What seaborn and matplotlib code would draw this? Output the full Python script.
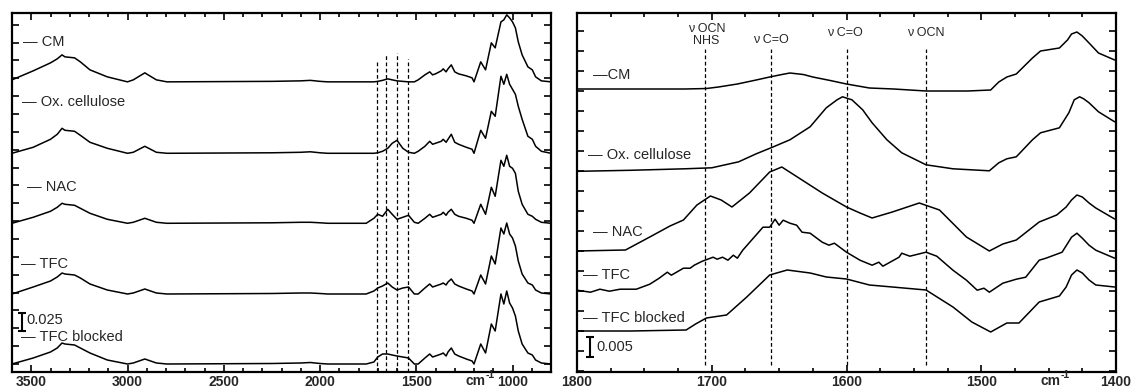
import matplotlib
matplotlib.use('Agg')
import matplotlib.pyplot as plt
from matplotlib.ticker import MultipleLocator, NullFormatter
import numpy as np
import seaborn as sns

# -------------------------------
# DATA (absorbance in mAbs, before vertical offset)
# -------------------------------
labels = ["CM", "Ox. cellulose", "NAC", "TFC", "TFC blocked"]
marker_lines = [1705, 1656, 1600, 1541]

# left panel: full range
wn_full = [3600, 3490, 3400, 3365, 3340, 3325, 3275, 3245, 3195, 3105,
           3000, 2970, 2910, 2850, 2795, 2250, 2100, 2050, 2000, 1960,
           1760, 1720, 1700, 1675, 1648, 1625, 1600, 1570, 1540, 1510,
           1490, 1455, 1430, 1415, 1400, 1370, 1360, 1345, 1335, 1318,
           1300, 1280, 1240, 1210, 1200, 1165, 1140, 1110, 1090, 1060,
           1045, 1030, 1015, 1000, 985, 970, 950, 920, 897, 880,
           850, 800]
full_cm = [2.8, 15.4, 26.6, 32.2, 37.8, 35.0, 33.6, 28.0, 16.8, 7.0,
           0, 2.8, 12.6, 2.8, 0, 0.7, 1.4, 2.1, 0.7, 0,
           0, 0, 0.7, 2.1, 4.2, 2.8, 1.4, 0.7, 0, 0,
           2.8, 9.8, 14.0, 9.8, 11.2, 15.4, 18.2, 14.0, 18.2, 23.8,
           14.0, 11.2, 8.4, 5.6, 0, 28.0, 16.8, 54.6, 47.6, 84.0,
           86.8, 93.8, 89.6, 84.0, 75.6, 56.0, 37.8, 21.0, 16.8, 7.0,
           1.4, 0]
full_ox = [0, 8.4, 19.6, 26.6, 35.0, 32.2, 30.8, 25.2, 15.4, 7.0,
           0, 1.4, 9.8, 1.4, 0, 0.7, 1.4, 2.1, 0.7, 0,
           0, 0, 0.7, 2.8, 7.0, 14.0, 18.2, 7.0, 1.4, 0,
           2.8, 9.8, 16.8, 12.6, 14.0, 16.8, 19.6, 15.4, 19.6, 26.6,
           15.4, 12.6, 8.4, 5.6, 0, 32.2, 21.0, 58.8, 51.8, 107.8,
           96.6, 110.6, 96.6, 89.6, 82.6, 65.8, 47.6, 23.8, 19.6, 9.8,
           2.8, 0]
full_nac = [0, 8.4, 16.8, 22.4, 28.0, 26.6, 25.2, 21.0, 14.0, 5.6,
            0, 1.4, 7.0, 1.4, 0, 0.7, 1.4, 1.4, 0.7, 0,
            0, 7.0, 12.6, 9.8, 19.6, 12.6, 5.6, 8.4, 11.2, 1.4,
            0, 7.0, 12.6, 8.4, 9.8, 12.6, 15.4, 11.2, 15.4, 19.6,
            12.6, 9.8, 7.0, 4.2, 0, 26.6, 12.6, 50.4, 37.8, 88.2,
            79.8, 95.2, 79.8, 77.0, 70.0, 44.8, 26.6, 12.6, 9.8, 5.6,
            1.4, 0]
full_tfc = [0, 9.8, 18.2, 23.8, 29.4, 28.0, 26.6, 22.4, 14.0, 5.6,
            0, 1.4, 7.0, 1.4, 0, 0.7, 1.4, 1.4, 0.7, 0,
            0, 4.2, 8.4, 11.2, 15.4, 9.8, 5.6, 8.4, 9.8, 0,
            0, 8.4, 14.0, 9.8, 11.2, 14.0, 15.4, 12.6, 16.8, 21.0,
            14.0, 11.2, 7.0, 4.2, 0, 26.6, 14.0, 53.2, 42.0, 92.4,
            84.0, 99.4, 84.0, 78.4, 67.2, 46.2, 28.0, 15.4, 12.6, 5.6,
            1.4, 0]
full_blk = [0, 8.4, 16.8, 22.4, 29.4, 28.0, 26.6, 22.4, 15.4, 5.6,
            0, 1.4, 7.0, 1.4, 0, 0.7, 1.4, 2.1, 0.7, 0,
            0, 2.8, 9.8, 14.0, 14.0, 12.6, 11.2, 9.8, 8.4, 0,
            0, 8.4, 14.0, 9.8, 11.2, 14.0, 15.4, 11.2, 16.8, 22.4,
            14.0, 11.2, 7.0, 4.2, 0, 28.0, 15.4, 56.0, 46.2, 98.0,
            84.0, 102.2, 85.4, 78.4, 67.2, 46.2, 28.0, 15.4, 12.6, 5.6,
            1.4, 0]
full_offsets = [395, 295, 197, 98, 0]

# right panel: 1800-1400 zoom
wn_cm = [1800, 1760, 1720, 1704, 1695, 1681, 1667, 1657, 1648, 1642,
         1632, 1625, 1612, 1600, 1583, 1565, 1541, 1510, 1493, 1487,
         1481, 1474, 1462, 1456, 1442, 1436, 1433, 1429, 1425, 1420,
         1413, 1401]
zoom_cm = [0, 0, 0, 0.12, 0.5, 1.25, 2.25, 3.0, 3.62, 4.0,
           3.62, 3.0, 2.12, 1.25, 0.25, 0, -0.5, -0.5, -0.25, 1.75,
           3.0, 3.75, 7.75, 9.5, 10.25, 12.25, 13.75, 14.25, 13.25, 11.5,
           9.0, 7.25]
wn_ox = [1800, 1760, 1720, 1700, 1680, 1667, 1656, 1642, 1627, 1615,
         1607, 1603, 1596, 1588, 1581, 1570, 1559, 1541, 1521, 1494,
         1487, 1481, 1474, 1462, 1456, 1442, 1435, 1431, 1427, 1424,
         1420, 1413, 1401]
zoom_ox = [0.12, 0.38, 0.75, 1.0, 2.5, 4.5, 6.0, 8.0, 11.25, 16.0,
           18.0, 18.75, 18.0, 15.5, 12.25, 8.0, 4.75, 1.75, 0.75, 0.25,
           2.25, 3.25, 3.75, 8.0, 9.75, 11.0, 14.75, 18.0, 18.75, 18.25,
           17.25, 15.0, 12.5]
wn_nac = [1800, 1764, 1746, 1731, 1721, 1711, 1701, 1693, 1685, 1672,
          1657, 1648, 1633, 1618, 1600, 1590, 1581, 1566, 1546, 1531,
          1511, 1494, 1484, 1474, 1457, 1444, 1437, 1433, 1429, 1425,
          1420, 1415, 1401]
zoom_nac = [0, 0.25, 3.5, 6.25, 7.75, 11.5, 13.75, 12.75, 11.0, 14.5,
            19.75, 21.0, 17.75, 14.5, 11.0, 9.5, 8.25, 9.75, 12.0, 10.25,
            3.5, 0, 1.75, 2.75, 7.25, 9.0, 11.0, 12.75, 14.0, 13.5,
            12.0, 10.75, 8.0]
wn_tfc = [1800, 1790, 1783, 1776, 1768, 1756, 1746, 1739, 1733, 1730,
          1721, 1716, 1713, 1707, 1699, 1696, 1692, 1688, 1684, 1681,
          1677, 1662, 1657, 1653, 1650, 1647, 1642, 1637, 1633, 1627,
          1618, 1613, 1609, 1600, 1590, 1581, 1576, 1573, 1561, 1559,
          1553, 1541, 1533, 1521, 1511, 1503, 1498, 1494, 1484, 1474,
          1467, 1457, 1452, 1440, 1433, 1429, 1425, 1420, 1415, 1401]
zoom_tfc = [0, -0.5, 0.25, -0.25, 0.25, 0.25, 1.5, 3.0, 4.5, 3.75,
            5.5, 5.5, 6.25, 7.25, 8.25, 7.75, 8.25, 7.5, 8.75, 8.0,
            10.0, 15.75, 15.75, 17.75, 16.25, 17.5, 16.75, 16.25, 14.5, 14.25,
            12.0, 11.25, 11.75, 9.5, 7.5, 6.25, 7.0, 6.0, 8.25, 9.25,
            8.5, 9.5, 8.5, 5.0, 2.5, 0, 0.5, -0.5, 1.75, 2.75,
            3.25, 7.5, 8.0, 9.5, 13.25, 14.25, 13.0, 11.25, 10.0, 8.0]
wn_blk = [1800, 1760, 1719, 1712, 1704, 1689, 1674, 1657, 1644, 1627,
          1615, 1600, 1583, 1566, 1541, 1521, 1507, 1493, 1481, 1472,
          1457, 1442, 1437, 1433, 1429, 1425, 1420, 1415, 1401]
zoom_blk = [0, 0, 0.25, 1.75, 3.25, 4.0, 8.5, 14.0, 15.25, 14.5,
            13.5, 13.0, 11.5, 11.0, 10.25, 6.0, 2.25, -0.25, 2.0, 2.0,
            7.25, 8.75, 11.0, 14.0, 15.25, 14.5, 12.75, 11.5, 11.0]
zoom_offsets = [60.5, 39.8, 20.0, 10.2, 0]

annotations = [("\u03bd OCN\nNHS", 1704), ("\u03bd C=O", 1656),
               ("\u03bd C=O", 1601), ("\u03bd OCN", 1541)]

sns.set_theme(style="ticks")
plt.rcParams['font.family'] = ['Liberation Sans', 'DejaVu Sans']

fig = plt.figure(figsize=(11.33, 3.91), dpi=100)
ax1 = fig.add_axes([12 / 1133, 19 / 391, 539 / 1133, 359 / 391])
ax2 = fig.add_axes([577 / 1133, 19 / 391, 539 / 1133, 359 / 391])


def style_axis(ax, major, minor, ymajor):
    ax.xaxis.set_major_locator(MultipleLocator(major))
    ax.xaxis.set_minor_locator(MultipleLocator(minor))
    ax.yaxis.set_major_locator(MultipleLocator(ymajor))
    ax.yaxis.set_major_formatter(NullFormatter())
    ax.tick_params(which='both', direction='in', top=True, right=True,
                   color='black', width=1.2)
    ax.tick_params(which='major', length=5, pad=2)
    ax.tick_params(which='minor', length=3)
    ax.tick_params(axis='x', labelsize=10)
    for lab in ax.get_xticklabels():
        lab.set_fontweight('bold')
    for sp in ax.spines.values():
        sp.set_linewidth(1.6)
        sp.set_color('black')
    ax.set_xlabel("")
    ax.set_ylabel("")


def unit_label(ax, wn):
    # "cm-1" sits in the tick label row, between two tick labels
    ax.text(wn, -0.0365, "cm", fontsize=10, fontweight='bold', ha='right',
            va='baseline', transform=ax.get_xaxis_transform())
    ax.text(wn, -0.018, "-1", fontsize=7.5, fontweight='bold', ha='left',
            va='baseline', transform=ax.get_xaxis_transform())


# -------------------------------
# LEFT PANEL
# -------------------------------
full_series = [full_cm, full_ox, full_nac, full_tfc, full_blk]
for vals, off in zip(full_series, full_offsets):
    sns.lineplot(x=wn_full, y=np.array(vals) + off, ax=ax1, color='black',
                 lw=1.1, sort=False, estimator=None)
ax1.set_xlim(3600, 800)
ax1.set_ylim(-11.2, 491.4)
for wn, top in zip(marker_lines, [425, 433, 435, 427]):
    ax1.plot([wn, wn], [-11.2, top], color='black', lw=0.9, ls=(0, (3, 2)))

left_lab_pos = [(3543, 451), (3548, 367), (3522, 248), (3553, 140), (3553, 38)]
for lab, (x, y) in zip(labels, left_lab_pos):
    ax1.text(x, y, "\u2014 " + lab, fontsize=10.5, va='center', ha='left')
ax1.errorbar([3548], [59.0], yerr=[12.5], color='black', lw=1.5, capsize=3,
             capthick=1.5)
ax1.text(3524, 61.5, "0.025", fontsize=10.5, va='center', ha='left')
style_axis(ax1, 500, 100, 25)
unit_label(ax1, 1140)

# -------------------------------
# RIGHT PANEL
# -------------------------------
zoom_series = [(wn_cm, zoom_cm), (wn_ox, zoom_ox), (wn_nac, zoom_nac),
               (wn_tfc, zoom_tfc), (wn_blk, zoom_blk)]
for (wn, vals), off in zip(zoom_series, zoom_offsets):
    sns.lineplot(x=wn, y=np.array(vals) + off, ax=ax2, color='black',
                 lw=1.1, sort=False, estimator=None)
ax2.set_xlim(1800, 1400)
ax2.set_ylim(-10.25, 79.5)
for wn in marker_lines:
    ax2.plot([wn, wn], [-8.5, 70.5], color='black', lw=0.9, ls=(0, (3, 2)))
for txt, wn in annotations:
    y = 74.0 if "NHS" in txt else (72.7 if wn == 1656 else 74.4)
    ax2.text(wn, y, txt, fontsize=9, ha='center', va='center', linespacing=1.0)

right_lab_pos = [(1788, 64), (1792, 44), (1788, 24.75), (1795.5, 14), (1795.5, 3.25)]
for lab, (x, y) in zip(labels, right_lab_pos):
    sep = "\u2014" if lab == "CM" else "\u2014 "
    ax2.text(x, y, sep + lab, fontsize=10.5, va='center', ha='left')
ax2.errorbar([1790.4], [-4.0], yerr=[2.5], color='black', lw=1.5, capsize=3,
             capthick=1.5)
ax2.text(1785.5, -3.9, "0.005", fontsize=10.5, va='center', ha='left')
style_axis(ax2, 100, 25, 5)
unit_label(ax2, 1441)

plt.savefig("out.png", dpi=100)
plt.close()
